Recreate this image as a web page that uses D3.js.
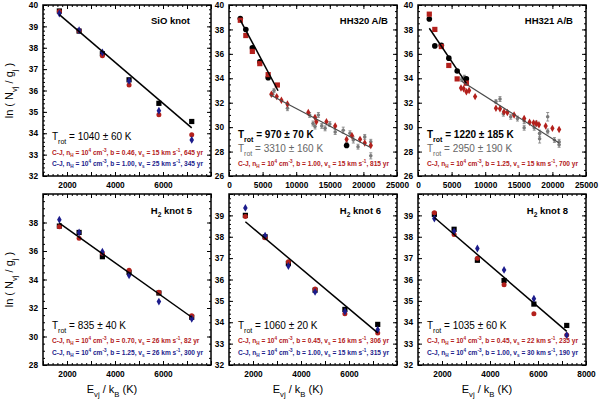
<!DOCTYPE html>
<html>
<head>
<meta charset="utf-8">
<script src="https://cdn.jsdelivr.net/npm/d3@7"></script>
<style>
  body { margin: 0; background: #fff; }
  svg { display: block; font-family: "Liberation Sans", Arial, sans-serif; }
</style>
</head>
<body>
<svg id="chart" width="600" height="399"></svg>
<script>
// niveles rotacionales puros v=0, J=4..9 (E/k en K)
const energias = [1682, 2504, 3474, 4586, 5829, 7197];

// SiO knot
const sioObs = [39.72, 38.78, 37.72, 36.5, 35.4, 34.55];
const sioRojo = [39.7, 38.8, 37.62, 36.26, 34.86, 33.93];
const sioAzul = [39.6, 38.82, 37.78, 36.45, 35.05, 33.69];
const sioFit = [[1682, 39.55], [7197, 34.25]];

// HH320 A/B
const hh320Obs = [38.9, 38.0, 36.5, 35.35, 34.05];
const hh320ObsExtraE = [17500];
const hh320ObsExtra = [28.5];
const hh320Rojo = [38.75, 37.5, 36.2, 35.2, 34.3, 33.45];
const hh320RojoE = [6300, 7100, 7800, 8700, 11800, 12800, 13000, 14500, 15800, 17500, 18300, 19500, 20200, 21100];
const hh320RojoLn = [32.7, 32.5, 32.2, 31.9, 31.2, 30.8, 30.45, 30.45, 30.1, 29.0, 29.3, 29.0, 28.7, 28.5];
const hh320GrisE = [6500, 6700, 8700, 12000, 12500, 12800, 13300, 13800, 14300, 15000, 15800, 17000, 17500, 18000, 18500, 19200, 20200, 21100, 21100];
const hh320GrisLn = [32.7, 33.0, 31.55, 31.0, 30.3, 30.05, 31.0, 30.1, 29.9, 30.25, 29.6, 29.75, 28.7, 29.5, 28.95, 28.4, 29.2, 28.8, 27.65];
const hh320GrisErr = [0.15, 0.15, 0.2, 0.2, 0.2, 0.2, 0.2, 0.2, 0.2, 0.2, 0.2, 0.25, 0.25, 0.2, 0.25, 0.2, 0.2, 0.2, 0.25];
const hh320Fit = [[1682, 38.77], [7300, 32.98]];
const hh320Fit2 = [[6100, 32.65], [21000, 28.35]];

// HH321 A/B
const hh321Obs = [38.85, 36.65, 36.7, 35.65, 34.6, 33.95];
const hh321Rojo = [39.25, 38.0, 36.6, 35.05, 33.95, 33.6];
const hh321RojoE = [6400, 6800, 7200, 7600, 8500, 11600, 12200, 12800, 13300, 14300, 15800, 16600, 17200, 17600, 18000, 19000, 20000, 21000];
const hh321RojoLn = [33.2, 33.15, 32.9, 33.0, 32.5, 31.55, 31.5, 31.25, 31.2, 31.0, 30.7, 30.4, 30.35, 30.3, 30.2, 30.1, 29.9, 29.8];
const hh321GrisE = [6500, 6900, 7100, 11600, 12200, 12700, 13800, 14800, 15800, 15800, 17300, 17600, 18100, 18100, 19300, 19300, 20300, 21000, 21000];
const hh321GrisLn = [33.9, 34.1, 33.6, 32.1, 32.3, 31.1, 30.85, 30.7, 30.5, 29.95, 29.95, 30.3, 29.5, 29.05, 29.65, 30.85, 28.95, 28.8, 28.55];
const hh321GrisErr = [0.15, 0.15, 0.15, 0.15, 0.2, 0.2, 0.2, 0.2, 0.2, 0.2, 0.2, 0.2, 0.25, 0.35, 0.2, 0.35, 0.2, 0.2, 0.2];
const hh321Fit = [[1682, 38.1], [7197, 33.58]];
const hh321Fit2 = [[6500, 33.75], [21000, 28.7]];

// H2 knot 5
const k5Obs = [37.75, 37.3, 35.6, 34.5, 33.05, 31.35];
const k5Rojo = [37.7, 36.9, 35.85, 34.65, 33.1, 31.45];
const k5Azul = [38.2, 37.3, 35.95, 34.3, 32.45, 31.25];
const k5Fit = [[1682, 37.95], [7197, 31.35]];

// H2 knot 6
const k6Obs = [39.0, 38.0, 36.75, 35.5, 34.6, 33.9];
const k6Rojo = [38.95, 37.95, 36.83, 35.55, 34.4, 33.5];
const k6Azul = [39.35, 38.05, 36.63, 35.42, 34.5, 33.65];
const k6Fit = [[1682, 38.7], [7197, 33.5]];

// H2 knot 8
const k8Obs = [39.05, 38.35, 36.9, 35.95, 34.85, 33.85];
const k8Rojo = [39.12, 38.1, 37.0, 35.75, 34.4, 33.4];
const k8Azul = [38.85, 38.25, 37.45, 36.45, 35.1, 33.4];
const k8Fit = [[1682, 38.9], [7197, 33.57]];

// etiquetas de los modelos de choque C-J: [b, vs, edad]
const sioModelos = [['0.46', '15', '645'], ['1.00', '25', '345']];
const hh320Modelos = [['1.00', '15', '815']];
const hh321Modelos = [['1.25', '15', '700']];
const k5Modelos = [['0.70', '26', '82'], ['1.25', '26', '300']];
const k6Modelos = [['0.45', '16', '306'], ['1.00', '15', '315']];
const k8Modelos = [['0.45', '22', '235'], ['1.00', '30', '190']];

const ROJO = '#b3201c';
const AZUL = '#1c1c8c';
const GRIS = '#7a7a7a';
const W = 168, H = 171;

const svg = d3.select('#chart');

// texto con sub/superindices
function textoRico(g, x, y, partes, size, color, weight) {
  const t = g.append('text')
    .attr('x', x).attr('y', y)
    .attr('font-size', size)
    .attr('fill', color)
    .attr('font-weight', weight || 'normal');
  let shift = 0;
  partes.forEach(p => {
    const [str, modo] = Array.isArray(p) ? p : [p, null];
    const target = modo === 'sub' ? size * 0.35 : modo === 'sup' ? -size * 0.4 : 0;
    t.append('tspan')
      .attr('dy', target - shift)
      .attr('font-size', modo ? size * 0.7 : size)
      .text(str);
    shift = target;
  });
  return t;
}

function partesModelo(m) {
  return ['C-J, n', ['H', 'sub'], ' = 10', ['4', 'sup'], ' cm', ['-3', 'sup'],
    `, b = ${m[0]}, v`, ['s', 'sub'], ` = ${m[1]} km s`, ['-1', 'sup'], `, ${m[2]} yr`];
}

function rango(a, b, paso) {
  return d3.range(Math.round(a / paso), Math.round(b / paso) + 1).map(i => +(i * paso).toFixed(3));
}

function panel(cfg) {
  const g = svg.append('g').attr('transform', `translate(${cfg.left},${cfg.top})`);
  const x = d3.scaleLinear().domain(cfg.xDom).range([0, W]);
  const y = d3.scaleLinear().domain(cfg.yDom).range([H, 0]);

  const xMaj = rango(cfg.xDom[0], cfg.xDom[1], cfg.xPaso);
  const xMin = rango(cfg.xDom[0], cfg.xDom[1], cfg.xMenor);
  const yMaj = rango(cfg.yDom[0], cfg.yDom[1], cfg.yPaso);
  const yMin = rango(cfg.yDom[0], cfg.yDom[1], cfg.yMenor);

  // marcas hacia dentro en los cuatro lados
  const ejes = [
    [d3.axisBottom, `translate(0,${H})`, x, xMaj, xMin, cfg.xEtiq, 6],
    [d3.axisTop, 'translate(0,0)', x, xMaj, xMin, [], 5],
    [d3.axisLeft, 'translate(0,0)', y, yMaj, yMin, cfg.yEtiq, 5],
    [d3.axisRight, `translate(${W},0)`, y, yMaj, yMin, [], 5]
  ];
  ejes.forEach(([fn, tr, sc, maj, min, etiq, pad]) => {
    g.append('g').attr('transform', tr)
      .call(fn(sc).tickValues(min).tickSize(-2).tickFormat(''))
      .call(a => a.select('.domain').remove());
    g.append('g').attr('transform', tr)
      .attr('class', 'eje')
      .call(fn(sc).tickValues(maj).tickSize(-4).tickPadding(pad)
        .tickFormat(d => etiq.includes(d) ? d : ''))
      .call(a => a.select('.domain').remove());
  });
  g.selectAll('.tick line').attr('stroke', '#000').attr('stroke-width', 1);
  g.selectAll('.eje text')
    .attr('font-size', 8.3)
    .attr('font-weight', 'bold')
    .attr('font-family', '"Liberation Sans", Arial, sans-serif')
    .attr('fill', '#000');

  g.append('rect')
    .attr('width', W).attr('height', H)
    .attr('fill', 'none').attr('stroke', '#000').attr('stroke-width', 1.5);

  const linea = d3.line().x(d => x(d[0])).y(d => y(d[1]));

  // barras de error y puntos grises (niveles vibracionales)
  if (cfg.grisE) {
    cfg.grisE.forEach((e, i) => {
      const v = cfg.grisLn[i], err = cfg.grisErr[i];
      g.append('line').attr('x1', x(e)).attr('x2', x(e))
        .attr('y1', y(v - err)).attr('y2', y(v + err))
        .attr('stroke', GRIS).attr('stroke-width', 0.8);
      [v - err, v + err].forEach(c => {
        g.append('line').attr('x1', x(e) - 1.5).attr('x2', x(e) + 1.5)
          .attr('y1', y(c)).attr('y2', y(c))
          .attr('stroke', GRIS).attr('stroke-width', 0.8);
      });
    });
    g.selectAll('.gris')
      .data(cfg.grisE)
      .enter()
      .append('circle')
        .attr('cx', d => x(d))
        .attr('cy', (d, i) => y(cfg.grisLn[i]))
        .attr('r', 1.8)
        .attr('fill', GRIS);
  }

  // observaciones (negro)
  const obsE = energias.slice(0, cfg.obs.length).concat(cfg.obsExtraE || []);
  const obsLn = cfg.obs.concat(cfg.obsExtra || []);
  g.selectAll('.obs')
    .data(obsE)
    .enter()
    .append(cfg.obsForma === 'circulo' ? 'circle' : 'rect')
      .each(function(d, i) {
        const s = d3.select(this);
        if (cfg.obsForma === 'circulo') {
          s.attr('cx', x(d)).attr('cy', y(obsLn[i])).attr('r', 2.8);
        } else {
          s.attr('x', x(d) - 2.6).attr('y', y(obsLn[i]) - 2.6).attr('width', 5.2).attr('height', 5.2);
        }
      })
      .attr('fill', '#000');

  // modelo rojo en niveles rotacionales
  g.selectAll('.rojo')
    .data(energias)
    .enter()
    .append(cfg.rojoForma === 'cuadrado' ? 'rect' : 'circle')
      .each(function(d, i) {
        const s = d3.select(this);
        if (cfg.rojoForma === 'cuadrado') {
          s.attr('x', x(d) - 2.6).attr('y', y(cfg.rojo[i]) - 2.6).attr('width', 5.2).attr('height', 5.2);
        } else {
          s.attr('cx', x(d)).attr('cy', y(cfg.rojo[i])).attr('r', 2.5);
        }
      })
      .attr('fill', ROJO);

  if (cfg.rojoE) {
    g.selectAll('.rojo2')
      .data(cfg.rojoE)
      .enter()
      .append('path')
        .attr('d', d3.symbol(d3.symbolDiamond, 16))
        .attr('transform', (d, i) => `translate(${x(d)},${y(cfg.rojoLn[i])})`)
        .attr('fill', ROJO);
  }

  if (cfg.azul) {
    g.selectAll('.azul')
      .data(energias)
      .enter()
      .append('path')
        .attr('d', d3.symbol(d3.symbolDiamond, 18))
        .attr('transform', (d, i) => `translate(${x(d)},${y(cfg.azul[i])})`)
        .attr('fill', AZUL);
  }

  // ajustes lineales
  g.append('path').attr('d', linea(cfg.fit))
    .attr('fill', 'none').attr('stroke', '#000').attr('stroke-width', 1.5);
  if (cfg.fit2) {
    g.append('path').attr('d', linea(cfg.fit2))
      .attr('fill', 'none').attr('stroke', '#4a4a4a').attr('stroke-width', 1.2);
  }

  // nombre del nudo
  textoRico(g, W - cfg.nombreDx, cfg.nombreY, cfg.nombre, 9.5, '#000', 'bold')
    .attr('text-anchor', 'end');

  // temperaturas y modelos
  cfg.temps.forEach((tt, i) => {
    textoRico(g, 9, H - cfg.tempsY[i], ['T', ['rot', 'sub'], ` = ${tt} K`], 10,
      i === 0 ? '#000' : '#666', i === 0 && cfg.fit2 ? 'bold' : 'normal');
  });
  cfg.modelos.forEach((m, i) => {
    textoRico(g, 9, H - cfg.modelosY[i], partesModelo(m), 6.6, i === 0 ? ROJO : AZUL, 'bold');
  });
}

const fila1 = 5, fila2 = 194;
const col = [43, 229, 418];
const rot = { xDom: [1000, 8000], xPaso: 1000, xMenor: 200 };
const vib = { xDom: [0, 25000], xPaso: 5000, xMenor: 1000, xEtiq: [0, 5000, 10000, 15000, 20000, 25000] };

panel(Object.assign({}, rot, {
  left: col[0], top: fila1, yDom: [32, 40], yPaso: 1, yMenor: 0.2,
  xEtiq: [2000, 4000, 6000], yEtiq: [32, 33, 34, 35, 36, 37, 38, 39, 40],
  obs: sioObs, rojo: sioRojo, azul: sioAzul, fit: sioFit,
  nombre: ['SiO knot'], nombreDx: 21, nombreY: 19,
  temps: ['1040 ± 60'], tempsY: [36], modelos: sioModelos, modelosY: [21, 10]
}));

panel(Object.assign({}, vib, {
  left: col[1], top: fila1, yDom: [26, 40], yPaso: 2, yMenor: 0.5,
  yEtiq: [26, 28, 30, 32, 34, 36, 38, 40],
  obs: hh320Obs, obsExtraE: hh320ObsExtraE, obsExtra: hh320ObsExtra, obsForma: 'circulo',
  rojo: hh320Rojo, rojoForma: 'cuadrado', rojoE: hh320RojoE, rojoLn: hh320RojoLn,
  grisE: hh320GrisE, grisLn: hh320GrisLn, grisErr: hh320GrisErr,
  fit: hh320Fit, fit2: hh320Fit2,
  nombre: ['HH320  A/B'], nombreDx: 9, nombreY: 19,
  temps: ['970 ± 70', '3310 ± 160'], tempsY: [38, 24], modelos: hh320Modelos, modelosY: [10]
}));

panel(Object.assign({}, vib, {
  left: col[2], top: fila1, yDom: [26, 40], yPaso: 2, yMenor: 0.5,
  yEtiq: [26, 28, 30, 32, 34, 36, 38, 40],
  obs: hh321Obs, obsForma: 'circulo',
  rojo: hh321Rojo, rojoForma: 'cuadrado', rojoE: hh321RojoE, rojoLn: hh321RojoLn,
  grisE: hh321GrisE, grisLn: hh321GrisLn, grisErr: hh321GrisErr,
  fit: hh321Fit, fit2: hh321Fit2,
  nombre: ['HH321  A/B'], nombreDx: 13, nombreY: 19,
  temps: ['1220 ± 185', '2950 ± 190'], tempsY: [38, 24], modelos: hh321Modelos, modelosY: [10]
}));

panel(Object.assign({}, rot, {
  left: col[0], top: fila2, yDom: [28, 40], yPaso: 2, yMenor: 0.5,
  xEtiq: [2000, 4000, 6000], yEtiq: [28, 30, 32, 34, 36, 38],
  obs: k5Obs, rojo: k5Rojo, azul: k5Azul, fit: k5Fit,
  nombre: ['H', ['2', 'sub'], ' knot 5'], nombreDx: 19, nombreY: 20,
  temps: ['835 ± 40'], tempsY: [36], modelos: k5Modelos, modelosY: [22, 10]
}));

panel(Object.assign({}, rot, {
  left: col[1], top: fila2, yDom: [32, 40], yPaso: 1, yMenor: 0.2,
  xEtiq: [2000, 4000, 6000], yEtiq: [32, 33, 34, 35, 36, 37, 38, 39],
  obs: k6Obs, rojo: k6Rojo, azul: k6Azul, fit: k6Fit,
  nombre: ['H', ['2', 'sub'], ' knot 6'], nombreDx: 16, nombreY: 20,
  temps: ['1060 ± 20'], tempsY: [36], modelos: k6Modelos, modelosY: [22, 10]
}));

panel(Object.assign({}, rot, {
  left: col[2], top: fila2, yDom: [32, 40], yPaso: 1, yMenor: 0.2,
  xEtiq: [2000, 4000, 6000, 8000], yEtiq: [32, 33, 34, 35, 36, 37, 38, 39],
  obs: k8Obs, rojo: k8Rojo, azul: k8Azul, fit: k8Fit,
  nombre: ['H', ['2', 'sub'], ' knot 8'], nombreDx: 18, nombreY: 20,
  temps: ['1035 ± 60'], tempsY: [36], modelos: k8Modelos, modelosY: [22, 10]
}));

// títulos de ejes
[fila1 + H / 2, fila2 + H / 2].forEach(cy => {
  const g = svg.append('g').attr('transform', `translate(13,${cy}) rotate(-90)`);
  textoRico(g, 0, 0, ['ln ( N', ['vj', 'sub'], ' / g', ['j', 'sub'], ' )'], 11, '#000')
    .attr('text-anchor', 'middle');
});
col.forEach(cx => {
  textoRico(svg, cx + 69, 393, ['E', ['vj', 'sub'], ' / k', ['B', 'sub'], ' (K)'], 11, '#000')
    .attr('text-anchor', 'middle');
});
</script>
</body>
</html>
